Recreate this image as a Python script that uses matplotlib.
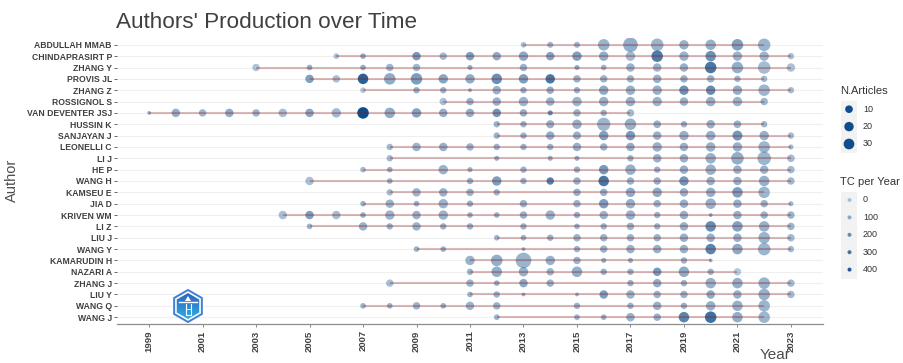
import numpy as np
import matplotlib.pyplot as plt
from matplotlib.colors import LinearSegmentedColormap
from matplotlib.patches import Polygon, Rectangle

plt.rcParams['font.family'] = ['Liberation Sans', 'DejaVu Sans']

authors = ["ABDULLAH MMAB", "CHINDAPRASIRT P", "ZHANG Y", "PROVIS JL", "ZHANG Z",
           "ROSSIGNOL S", "VAN DEVENTER JSJ", "HUSSIN K", "SANJAYAN J", "LEONELLI C",
           "LI J", "HE P", "WANG H", "KAMSEU E", "JIA D", "KRIVEN WM", "LI Z", "LIU J",
           "WANG Y", "KAMARUDIN H", "NAZARI A", "ZHANG J", "LIU Y", "WANG Q", "WANG J"]

# publication years per author
years = [
    [2013, 2014, 2015, 2016, 2017, 2018, 2019, 2020, 2021, 2022],
    [2006, 2007, 2009, 2010, 2011, 2012, 2013, 2014, 2015, 2016, 2017, 2018, 2019, 2020, 2021, 2022, 2023],
    [2003, 2005, 2007, 2008, 2009, 2011, 2013, 2015, 2016, 2017, 2018, 2019, 2020, 2021, 2022, 2023],
    [2005, 2006, 2007, 2008, 2009, 2010, 2011, 2012, 2013, 2014, 2015, 2016, 2017, 2018, 2019, 2020, 2021, 2022],
    [2007, 2009, 2010, 2011, 2012, 2013, 2014, 2015, 2016, 2017, 2018, 2019, 2020, 2021, 2022, 2023],
    [2010, 2011, 2012, 2013, 2014, 2015, 2016, 2017, 2018, 2019, 2020, 2021, 2022],
    [1999, 2000, 2001, 2002, 2003, 2004, 2005, 2006, 2007, 2008, 2009, 2010, 2011, 2012, 2013, 2014, 2015, 2016, 2017],
    [2012, 2013, 2014, 2015, 2016, 2017, 2018, 2019, 2020, 2021, 2022],
    [2012, 2013, 2014, 2015, 2016, 2017, 2018, 2019, 2020, 2021, 2022, 2023],
    [2008, 2009, 2010, 2011, 2012, 2013, 2014, 2015, 2016, 2017, 2018, 2019, 2020, 2021, 2022, 2023],
    [2008, 2012, 2014, 2015, 2017, 2018, 2019, 2020, 2021, 2022, 2023],
    [2007, 2008, 2010, 2011, 2013, 2015, 2016, 2017, 2018, 2019, 2020, 2021, 2022, 2023],
    [2005, 2008, 2011, 2012, 2013, 2014, 2015, 2016, 2017, 2018, 2019, 2020, 2021, 2022, 2023],
    [2008, 2009, 2010, 2011, 2012, 2015, 2016, 2017, 2018, 2019, 2020, 2021, 2022],
    [2007, 2008, 2009, 2010, 2011, 2013, 2015, 2016, 2017, 2018, 2019, 2020, 2021, 2022, 2023],
    [2004, 2005, 2006, 2007, 2008, 2009, 2010, 2011, 2012, 2013, 2014, 2015, 2016, 2017, 2018, 2019, 2020, 2021, 2022, 2023],
    [2005, 2007, 2008, 2009, 2010, 2011, 2013, 2015, 2016, 2017, 2018, 2019, 2020, 2021, 2022, 2023],
    [2012, 2013, 2014, 2015, 2016, 2017, 2018, 2019, 2020, 2021, 2022, 2023],
    [2009, 2010, 2013, 2015, 2016, 2017, 2018, 2019, 2020, 2021, 2022, 2023],
    [2011, 2012, 2013, 2014, 2015, 2016, 2017, 2019, 2020],
    [2011, 2012, 2013, 2014, 2015, 2016, 2017, 2018, 2019, 2020, 2021],
    [2008, 2011, 2012, 2013, 2014, 2017, 2018, 2019, 2020, 2021, 2022, 2023],
    [2011, 2012, 2013, 2015, 2016, 2017, 2018, 2019, 2020, 2021, 2022, 2023],
    [2007, 2008, 2009, 2010, 2011, 2012, 2015, 2017, 2018, 2019, 2020, 2021, 2022],
    [2012, 2015, 2016, 2017, 2018, 2019, 2020, 2021, 2022],
]

# number of articles in each of those years
articles = [
    [3, 4, 4, 37, 71, 47, 20, 28, 37, 47],
    [3, 3, 14, 9, 14, 14, 20, 14, 20, 20, 20, 37, 20, 28, 20, 20, 5],
    [9, 3, 3, 9, 9, 2, 9, 2, 3, 14, 14, 14, 37, 37, 47, 14],
    [14, 9, 28, 37, 37, 20, 20, 28, 20, 20, 9, 9, 9, 14, 9, 9, 5, 5],
    [3, 5, 5, 1, 14, 5, 9, 5, 20, 20, 20, 20, 20, 20, 37, 5],
    [9, 9, 14, 20, 14, 20, 20, 20, 20, 14, 20, 20, 9],
    [1, 14, 9, 14, 9, 14, 14, 20, 37, 28, 20, 14, 14, 14, 9, 2, 9, 5, 9],
    [5, 5, 12, 20, 55, 37, 10, 5, 14, 10, 5],
    [5, 5, 14, 12, 20, 20, 14, 20, 20, 24, 20, 5],
    [5, 14, 14, 9, 5, 5, 5, 14, 9, 14, 20, 14, 20, 20, 37, 2],
    [5, 2, 2, 2, 5, 14, 14, 28, 47, 58, 10],
    [3, 3, 20, 2, 5, 5, 20, 28, 5, 14, 28, 14, 14, 9],
    [14, 3, 5, 20, 5, 9, 9, 28, 9, 9, 20, 14, 14, 28, 9],
    [5, 14, 14, 9, 5, 9, 9, 20, 20, 14, 20, 28, 37],
    [3, 14, 3, 20, 5, 9, 9, 20, 20, 9, 14, 28, 14, 9, 2],
    [14, 14, 14, 3, 20, 14, 20, 3, 3, 9, 20, 5, 14, 20, 5, 14, 1, 14, 9, 9],
    [3, 14, 5, 14, 5, 5, 5, 3, 5, 9, 5, 14, 28, 28, 28, 9],
    [3, 3, 5, 9, 9, 9, 9, 14, 14, 14, 37, 9],
    [3, 3, 1, 5, 9, 14, 14, 14, 28, 28, 47, 5],
    [20, 37, 85, 20, 9, 2, 2, 5, 1],
    [5, 28, 20, 9, 28, 5, 5, 14, 28, 5, 9],
    [9, 9, 3, 14, 9, 5, 14, 5, 28, 28, 37, 9],
    [3, 5, 1, 1, 14, 14, 9, 9, 14, 14, 37, 9],
    [3, 3, 9, 3, 14, 9, 5, 5, 14, 5, 20, 28, 37],
    [3, 3, 3, 14, 9, 28, 37, 28, 37],
]

# total citations per year
tc_year = [
    [40, 70, 70, 80, 100, 80, 90, 90, 150, 70],
    [30, 90, 170, 60, 160, 110, 120, 140, 150, 100, 60, 280, 80, 200, 80, 70, 40],
    [20, 90, 90, 70, 70, 90, 80, 100, 70, 80, 80, 90, 300, 100, 50, 30],
    [150, 40, 380, 110, 160, 130, 110, 210, 160, 300, 90, 80, 80, 90, 90, 80, 70, 60],
    [20, 90, 80, 90, 90, 90, 100, 90, 110, 90, 90, 200, 220, 100, 70, 50],
    [30, 80, 90, 80, 90, 80, 90, 90, 80, 90, 90, 80, 70],
    [90, 100, 70, 110, 80, 50, 130, 60, 450, 110, 140, 100, 100, 190, 100, 200, 80, 80, 60],
    [80, 80, 90, 90, 70, 90, 90, 80, 90, 80, 70],
    [80, 80, 100, 90, 150, 170, 90, 90, 90, 180, 90, 60],
    [60, 80, 90, 80, 80, 80, 80, 90, 80, 100, 90, 90, 90, 90, 70, 60],
    [60, 80, 80, 80, 80, 90, 90, 90, 100, 70, 50],
    [60, 80, 80, 80, 80, 80, 170, 90, 80, 90, 90, 90, 80, 60],
    [40, 80, 80, 160, 80, 260, 90, 300, 80, 90, 180, 90, 90, 90, 60],
    [60, 80, 90, 80, 80, 90, 90, 110, 110, 90, 100, 160, 70],
    [80, 80, 80, 80, 80, 90, 80, 160, 90, 80, 90, 90, 90, 80, 60],
    [40, 150, 50, 90, 80, 90, 80, 80, 80, 90, 80, 90, 80, 90, 80, 90, 100, 90, 80, 80],
    [80, 80, 80, 80, 80, 80, 80, 80, 80, 80, 80, 90, 220, 140, 90, 70],
    [70, 80, 80, 80, 80, 80, 80, 90, 90, 90, 80, 60],
    [80, 80, 80, 80, 80, 90, 90, 90, 250, 120, 70, 60],
    [80, 100, 80, 90, 80, 80, 80, 80, 90],
    [80, 100, 90, 80, 100, 90, 80, 170, 110, 80, 0],
    [40, 80, 80, 120, 80, 80, 100, 80, 90, 100, 80, 60],
    [80, 80, 80, 80, 160, 80, 80, 80, 110, 90, 90, 60],
    [80, 80, 80, 80, 80, 80, 80, 80, 90, 80, 90, 90, 70],
    [80, 80, 80, 90, 90, 250, 330, 100, 70],
]

year_ticks = list(range(1999, 2024, 2))
size_breaks = [10, 20, 30]
tc_breaks = [0, 100, 200, 300, 400]

W, H = 904, 363
PT = 72 / 100  # points per pixel at dpi 100
POINT_RGB = np.array([16, 78, 139]) / 255  # dodgerblue4
TXT = '#4d4d4d'

n_flat = np.concatenate([np.array(a, float) for a in articles])
tc_flat = np.concatenate([np.array(t, float) for t in tc_year])
n_lo, n_hi = n_flat.min(), n_flat.max()
tc_lo, tc_hi = tc_flat.min(), tc_flat.max()


def dot_area(n):
    # area scale: diameter grows with sqrt of the rescaled count
    d = 3.8 + 11.8 * np.sqrt((np.asarray(n, float) - n_lo) / (n_hi - n_lo))
    return (d * PT) ** 2


def dot_alpha(tc):
    return 0.3 + 0.7 * (np.asarray(tc, float) - tc_lo) / (tc_hi - tc_lo)


fig = plt.figure(figsize=(W / 100, H / 100), dpi=100)
ax = fig.add_axes([117 / W, 1 - 324 / H, (823 - 117) / W, (324 - 38) / H])

for i, (yr, n, tc) in enumerate(zip(years, articles, tc_year)):
    cols = np.zeros((len(yr), 4))
    cols[:, :3] = POINT_RGB
    cols[:, 3] = dot_alpha(tc)
    ax.scatter(yr, [i] * len(yr), s=dot_area(n), c=cols, edgecolors='none', zorder=3)
    ax.plot([min(yr), max(yr)], [i, i], color='#8B1A1A', alpha=0.3, lw=1.5,
            solid_capstyle='butt', zorder=4)

ax.set_xlim(1997.8, 2024.2)
ax.set_ylim(len(authors) - 0.4, -0.6)
ax.set_yticks(range(len(authors)))
ax.set_yticklabels(authors, fontsize=6.2, fontweight='bold', color='#404040')
ax.set_xticks(year_ticks)
ax.set_xticklabels([str(y) for y in year_ticks], rotation=90, fontsize=6.8,
                   fontweight='bold', color='#404040')
ax.tick_params(axis='y', length=2.2, width=0.6, color='#555555', pad=1.5)
ax.tick_params(axis='x', length=2.5, width=0.6, color='#777777', pad=2)
ax.grid(axis='y', color='#EFEFEF', lw=0.8, zorder=0)
ax.set_axisbelow(True)
for side in ['top', 'right', 'left']:
    ax.spines[side].set_visible(False)
ax.spines['bottom'].set_color('#8c8c8c')
ax.spines['bottom'].set_linewidth(0.9)

# titles
fig.text(116 / W, 1 - 28 / H, "Authors' Production over Time", fontsize=16.2,
         color='#404040', ha='left', va='baseline')
fig.text(12 / W, 1 - 180 / H, 'Author', fontsize=10.5, color=TXT, rotation=90,
         ha='center', va='center')
fig.text(791 / W, 1 - 355 / H, 'Year', fontsize=11, color=TXT, ha='right', va='center')

# legends drawn in pixel coordinates
lg = fig.add_axes([0, 0, 1, 1], facecolor='none')
lg.set_xlim(0, W)
lg.set_ylim(H, 0)
lg.axis('off')

lg.text(840, 91, 'N.Articles', fontsize=8, color='#333333', va='center', ha='left')
lg.add_patch(Rectangle((841, 100.5), 16.5, 52, facecolor='#F2F2F2', edgecolor='none'))
for k, v in enumerate(size_breaks):
    yk = 109.2 + k * 17.4
    lg.scatter([849], [yk], s=dot_area(v), color=POINT_RGB, edgecolors='none')
    lg.text(863, yk, str(v), fontsize=6.5, color='#333333', va='center', ha='left')

lg.text(840, 182, 'TC per Year', fontsize=8, color='#333333', va='center', ha='left')
lg.add_patch(Rectangle((841, 191.5), 16.5, 87, facecolor='#F2F2F2', edgecolor='none'))
for k, v in enumerate(tc_breaks):
    yk = 200 + k * 17.4
    lg.scatter([849.5], [yk], s=(4 * PT) ** 2, color=POINT_RGB, alpha=float(dot_alpha(v)),
               edgecolors='none')
    lg.text(863, yk, str(v), fontsize=6.5, color='#333333', va='center', ha='left')

# small hexagon badge in the corner of the panel
cx, cy, r = 188, 306, 16
ang = np.radians(90 + 60 * np.arange(6))
outer = np.c_[cx + r * np.cos(ang), cy - r * np.sin(ang)]
inner = np.c_[cx + (r - 3) * np.cos(ang), cy - (r - 3) * np.sin(ang)]
lg.add_patch(Polygon(outer, closed=True, facecolor='white', edgecolor='#3f7fd6', lw=1.4))
grad = np.linspace(0, 1, 64)[:, None]
badge_cmap = LinearSegmentedColormap.from_list('badge', ['#2b5fb6', '#2fb3ee'])
img = lg.imshow(grad, extent=(cx - r, cx + r, cy + r, cy - r), cmap=badge_cmap,
                aspect='auto', zorder=2)
img.set_clip_path(Polygon(inner, closed=True, transform=lg.transData))
lg.plot([cx - 9, cx + 9], [cy - 4, cy - 4], color='white', lw=1.0, zorder=3)
lg.plot([cx - 2, cx - 2, cx + 3, cx + 3], [cy - 2, cy + 9, cy + 9, cy - 2], color='white', lw=0.8, zorder=3)
lg.plot([cx - 2, cx + 3], [cy + 3, cy + 3], color='white', lw=0.6, zorder=3)
lg.add_patch(Polygon([[cx - 3, cy - 5], [cx, cy - 10], [cx + 3, cy - 5]], closed=True,
                     facecolor='white', edgecolor='none', zorder=3))
lg.set_xlim(0, W)
lg.set_ylim(H, 0)

fig.savefig('out.png', dpi=100)
